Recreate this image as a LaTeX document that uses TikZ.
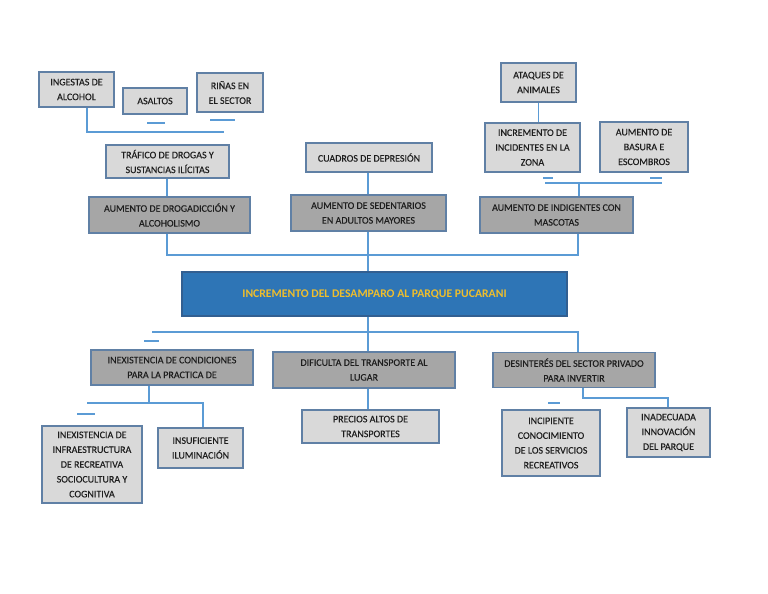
\documentclass[tikz,border=0pt]{standalone}
\usepackage{fontspec}
\setmainfont{Carlito}
\newfontfamily\boxfont[FakeBold=0.25]{Carlito}
\definecolor{lightc}{RGB}{217,217,217}
\definecolor{darkc}{RGB}{166,166,166}
\definecolor{bordc}{RGB}{96,128,165}
\definecolor{linec}{RGB}{91,155,213}
\definecolor{mainc}{RGB}{46,117,182}
\definecolor{mainb}{RGB}{50,95,145}
\definecolor{titc}{RGB}{238,190,45}
\definecolor{txtc}{RGB}{30,30,30}
\begin{document}
\begin{tikzpicture}[x=1pt,y=-1pt,
  box/.style={draw=bordc, line width=1.1pt, fill=lightc, text=txtc, align=center,
    inner sep=1pt, font=\boxfont\fontsize{10}{14.8}\selectfont},
  dbox/.style={box, fill=darkc},
  mainbox/.style={draw=mainb, line width=1.1pt, fill=mainc, text=titc, align=center,
    font=\bfseries\fontsize{11.7}{14}\selectfont},
  conn/.style={draw=linec, line width=1.7pt},
  dashl/.style={draw=linec, line width=1.5pt},
]
\useasboundingbox[fill=white] (0,0) rectangle (768,594);

% top-left group
\node[box, minimum width=75, minimum height=35] (ing) at (76.5,89.5) {INGESTAS DE\\ALCOHOL};
\node[box, minimum width=64, minimum height=26] (asa) at (155,101) {ASALTOS};
\node[box, minimum width=66, minimum height=39] (rin) at (230,92.5) {RIÑAS EN\\EL SECTOR};
\node[box, minimum width=123, minimum height=33] (tra) at (167.5,161.5) {TRÁFICO DE DROGAS Y\\SUSTANCIAS ILÍCITAS};
\node[box, minimum width=126, minimum height=29] (cua) at (369,157.5) {CUADROS DE DEPRESIÓN};

% top-right group
\node[box, minimum width=75, minimum height=39] (ata) at (538.5,82.5) {ATAQUES DE\\ANIMALES};
\node[box, minimum width=95, minimum height=49] (inc) at (532.5,147.5) {INCREMENTO DE\\INCIDENTES EN LA\\ZONA};
\node[box, minimum width=88, minimum height=50] (bas) at (644,147) {AUMENTO DE\\BASURA E\\ESCOMBROS};

% second level (effects)
\node[dbox, minimum width=161, minimum height=36] (dro) at (169.5,215) {AUMENTO DE DROGADICCIÓN Y\\ALCOHOLISMO};
\node[dbox, minimum width=155, minimum height=36] (sed) at (368.5,213) {AUMENTO DE SEDENTARIOS\\EN ADULTOS MAYORES};
\node[dbox, minimum width=153, minimum height=36] (ind) at (556.5,215) {AUMENTO DE INDIGENTES CON\\MASCOTAS};

% main problem
\node[mainbox, minimum width=385, minimum height=44] (main) at (374.5,294) {INCREMENTO DEL DESAMPARO AL PARQUE PUCARANI};

% causes
\node[dbox, minimum width=162, minimum height=35] (con) at (172,367.5) {INEXISTENCIA DE CONDICIONES\\PARA LA PRACTICA DE};
\node[dbox, minimum width=182, minimum height=36] (dif) at (364,370) {DIFICULTA DEL TRANSPORTE AL\\LUGAR};
\node[dbox, minimum width=162, minimum height=35] (des) at (574,370) {DESINTERÉS DEL SECTOR PRIVADO\\PARA INVERTIR};

\node[box, minimum width=100, minimum height=77] (inf) at (92,464.5) {INEXISTENCIA DE\\INFRAESTRUCTURA\\DE RECREATIVA\\SOCIOCULTURA Y\\COGNITIVA};
\node[box, minimum width=85, minimum height=40] (ins) at (200.5,448) {INSUFICIENTE\\ILUMINACIÓN};
\node[box, minimum width=137, minimum height=33] (pre) at (370.5,426.5) {PRECIOS ALTOS DE\\TRANSPORTES};
\node[box, minimum width=98, minimum height=66] (icp) at (551,443) {INCIPIENTE\\CONOCIMIENTO\\DE LOS SERVICIOS\\RECREATIVOS};
\node[box, minimum width=83, minimum height=49] (ina) at (668.5,432.5) {INADECUADA\\INNOVACIÓN\\DEL PARQUE};

% coordinates
\coordinate (k1) at (87,132);
\coordinate (k1e) at (224,132);
\coordinate (kb1) at (545,183);
\coordinate (kb2) at (662,183);
\coordinate (kb3) at (579,183);
\coordinate (e1) at (167,255);
\coordinate (e2) at (578,255);
\coordinate (e3) at (368,255);
\coordinate (m1) at (152,332);
\coordinate (m2) at (578,332);
\coordinate (m3) at (368,332);
\coordinate (c1) at (149,403);
\coordinate (c2) at (87,403);
\coordinate (c3) at (203,403);
\coordinate (d1) at (583,398);
\coordinate (d2) at (668,398);

% connectors top
\draw[conn] (ing.south -| k1) -- (k1) -- (k1e);
\draw[conn] (tra.south -| e1) -- (dro.north -| e1);
\draw[conn] (cua.south -| e3) -- (sed.north -| e3);
\draw[conn] (ata.south) -- (inc.north -| ata.south);
\draw[conn] (kb1) -- (kb2);
\draw[conn] (kb3) -- (ind.north -| kb3);
\draw[conn] (dro.south -| e1) -- (e1) -- (e2) -- (ind.south -| e2);
\draw[conn] (sed.south -| e3) -- (main.north -| e3);

% connectors bottom
\draw[conn] (main.south -| m3) -- (dif.north -| m3);
\draw[conn] (m1) -- (m2) -- (des.north -| m2);
\draw[conn] (dif.south -| m3) -- (pre.north -| m3);
\draw[conn] (con.south -| c1) -- (c1);
\draw[conn] (c2) -- (c3) -- (ins.north -| c3);
\draw[conn] (des.south -| d1) -- (d1) -- (d2) -- (ina.north -| d2);

% short dashes
\coordinate (s1a) at (147,123); \coordinate (s1b) at (165,123);
\coordinate (s2a) at (210,120); \coordinate (s2b) at (235,120);
\coordinate (s3a) at (543,178); \coordinate (s3b) at (553,178);
\coordinate (s4a) at (650,178); \coordinate (s4b) at (662,178);
\coordinate (s5a) at (144,341); \coordinate (s5b) at (159,341);
\coordinate (s6a) at (77,414);  \coordinate (s6b) at (95,414);
\coordinate (s7a) at (548,403); \coordinate (s7b) at (560,403);
\draw[dashl] (s1a) -- (s1b);
\draw[dashl] (s2a) -- (s2b);
\draw[dashl] (s3a) -- (s3b);
\draw[dashl] (s4a) -- (s4b);
\draw[dashl] (s5a) -- (s5b);
\draw[dashl] (s6a) -- (s6b);
\draw[dashl] (s7a) -- (s7b);
\end{tikzpicture}
\end{document}
